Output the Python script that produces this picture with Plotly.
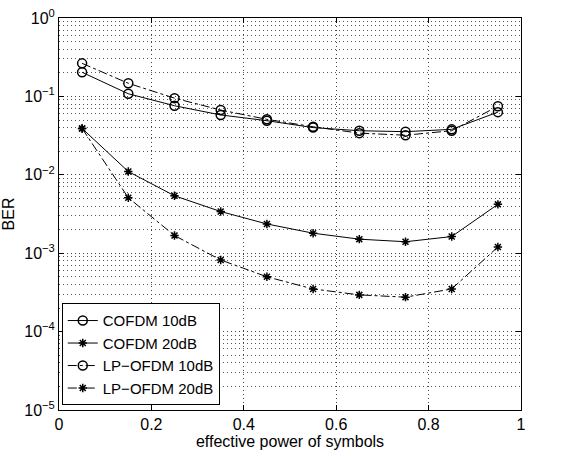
import plotly.graph_objects as go

x_vals = [0.05, 0.15, 0.25, 0.35, 0.45, 0.55, 0.65, 0.75, 0.85, 0.95]
cofdm_10 = [0.203, 0.108, 0.076, 0.058, 0.049, 0.040, 0.0365, 0.0355, 0.038, 0.063]
lp_ofdm_10 = [0.264, 0.147, 0.095, 0.067, 0.051, 0.041, 0.034, 0.032, 0.0365, 0.075]
cofdm_20 = [0.039, 0.011, 0.0054, 0.0034, 0.00236, 0.0018, 0.00151, 0.0014, 0.00163, 0.0042]
lp_ofdm_20 = [0.039, 0.0051, 0.00168, 0.00082, 0.0005, 0.00035, 0.000294, 0.000275, 0.00035, 0.0012]

series_names = ["COFDM 10dB", "COFDM 20dB", "LP\u2212OFDM 10dB", "LP\u2212OFDM 20dB"]
y_tick_vals = [1e-5, 1e-4, 1e-3, 1e-2, 1e-1, 1]
y_tick_text = ["10<sup>\u22125</sup>", "10<sup>\u22124</sup>", "10<sup>\u22123</sup>",
               "10<sup>\u22122</sup>", "10<sup>\u22121</sup>", "10<sup>0</sup>"]
x_tick_vals = [0, 0.2, 0.4, 0.6, 0.8, 1]
x_tick_text = ["0", "0.2", "0.4", "0.6", "0.8", "1"]

fig = go.Figure()

styles = [
    (cofdm_10, "solid", "circle-open", 9),
    (cofdm_20, "solid", "asterisk-open", 7),
    (lp_ofdm_10, "dashdot", "circle-open", 9),
    (lp_ofdm_20, "dashdot", "asterisk-open", 7),
]
for name, (ys, dash, sym, sz) in zip(series_names, styles):
    fig.add_trace(go.Scatter(
        x=x_vals, y=ys, name=name, mode="lines+markers",
        line=dict(color="black", width=1, dash=dash),
        marker=dict(symbol=sym, size=sz, color="black",
                    line=dict(color="black", width=1.5)),
    ))

font_family = "Liberation Sans, Arial, Helvetica, sans-serif"
grid_dash = "1px,3px"

fig.update_layout(
    width=562, height=456,
    margin=dict(l=59, r=41, t=18, b=46),
    paper_bgcolor="white", plot_bgcolor="white",
    font=dict(family=font_family, size=16, color="black"),
    showlegend=True,
    legend=dict(x=0.006, y=0.012, xanchor="left", yanchor="bottom",
                bgcolor="white", bordercolor="black", borderwidth=1,
                font=dict(size=15, color="black"), tracegroupgap=0,
                itemwidth=30),
)

fig.update_xaxes(
    range=[0, 1], tickvals=x_tick_vals, ticktext=x_tick_text,
    showline=True, linecolor="black", linewidth=1, mirror="ticks",
    ticks="inside", ticklen=5, tickcolor="black", automargin=False,
    showgrid=True, gridcolor="#444444", griddash=grid_dash, gridwidth=1,
    zeroline=False, tickfont=dict(size=16),
    title=dict(text="effective power of symbols", font=dict(size=16), standoff=0),
)
fig.update_yaxes(
    type="log", range=[-5, 0], tickvals=y_tick_vals, ticktext=y_tick_text,
    showline=True, linecolor="black", linewidth=1, mirror="ticks",
    ticks="inside", ticklen=5, tickcolor="black", automargin=False,
    showgrid=True, gridcolor="#444444", griddash=grid_dash, gridwidth=1,
    minor=dict(dtick="D1", showgrid=True, gridcolor="#555555", griddash=grid_dash, gridwidth=1, ticks=""),
    zeroline=False, tickfont=dict(size=16),
    title=dict(text="BER", font=dict(size=16), standoff=6),
)

fig.write_html("out.html", config={"displayModeBar": False},
               post_script="document.body.style.margin='0';")
